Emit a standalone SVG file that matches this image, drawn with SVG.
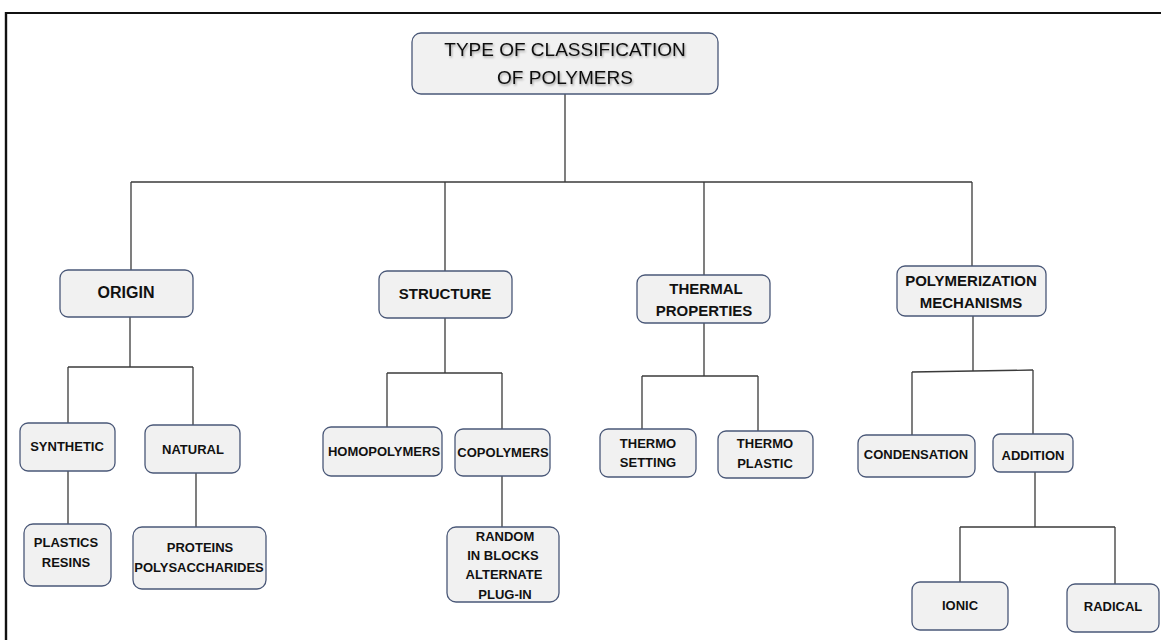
<svg xmlns="http://www.w3.org/2000/svg" width="1161" height="640" viewBox="0 0 1161 640">
<style>
.box{fill:#f1f1f1;stroke:#4a5878;stroke-width:1.3}
.l1{font-family:"Liberation Sans",Arial,sans-serif;font-weight:bold;font-size:15px;fill:#111;text-anchor:middle;dominant-baseline:central}
.l2{font-family:"Liberation Sans",Arial,sans-serif;font-weight:bold;font-size:13px;fill:#111;text-anchor:middle;dominant-baseline:central}
.root{font-family:"Liberation Sans",Arial,sans-serif;font-size:19px;fill:#111;text-anchor:middle;dominant-baseline:central}
.conn line{stroke:#3a3a3a;stroke-width:1.3}
</style>
<defs>
<filter id="sh" x="-10%" y="-30%" width="120%" height="160%">
<feDropShadow dx="1" dy="1.5" stdDeviation="1" flood-color="#000" flood-opacity="0.35"/>
</filter>
</defs>
<rect width="1161" height="640" fill="#fff"/>
<g id="frame">
<line x1="6" y1="13" x2="1161" y2="13" stroke="#111" stroke-width="2.2"/>
<line x1="6" y1="12" x2="6" y2="640" stroke="#111" stroke-width="2.4"/>
</g>
<g class="conn" id="connectors">
<line x1="565" y1="94" x2="565" y2="182"/>
<line x1="131" y1="182" x2="972" y2="182"/>
<line x1="131" y1="182" x2="131" y2="270"/>
<line x1="445" y1="182" x2="445" y2="271"/>
<line x1="704" y1="182" x2="704" y2="275"/>
<line x1="972" y1="182" x2="972" y2="266"/>
<line x1="130" y1="317" x2="130" y2="367"/>
<line x1="68" y1="367" x2="193" y2="367"/>
<line x1="68" y1="367" x2="68" y2="423"/>
<line x1="193" y1="367" x2="193" y2="425"/>
<line x1="445" y1="318" x2="445" y2="373"/>
<line x1="387" y1="373" x2="502" y2="373"/>
<line x1="387" y1="373" x2="387" y2="427"/>
<line x1="502" y1="373" x2="502" y2="429"/>
<line x1="704" y1="323" x2="704" y2="376"/>
<line x1="642" y1="376" x2="758" y2="376"/>
<line x1="642" y1="376" x2="642" y2="429"/>
<line x1="758" y1="376" x2="758" y2="431"/>
<line x1="973" y1="316" x2="973" y2="371"/>
<line x1="912" y1="372" x2="1033" y2="370"/>
<line x1="912" y1="372" x2="912" y2="435"/>
<line x1="1033" y1="370" x2="1033" y2="434"/>
<line x1="1035" y1="472" x2="1035" y2="527"/>
<line x1="960" y1="527" x2="1115" y2="527"/>
<line x1="960" y1="527" x2="960" y2="582"/>
<line x1="1115" y1="527" x2="1115" y2="584"/>
<line x1="68" y1="471" x2="68" y2="524"/>
<line x1="196" y1="473" x2="196" y2="527"/>
<line x1="502" y1="476" x2="502" y2="527"/>
</g>
<g id="root">
<rect class="box" x="412" y="33" width="306" height="61" rx="9"/>
<g filter="url(#sh)">
<text class="root" x="565" y="49">TYPE OF CLASSIFICATION</text>
<text class="root" x="565" y="77">OF POLYMERS</text>
</g>
</g>
<g id="origin">
<rect class="box" x="60" y="270" width="133" height="47" rx="8"/>
<text class="l1" x="126" y="292" style="font-size:16px">ORIGIN</text>
</g>
<g id="structure">
<rect class="box" x="379" y="271" width="133" height="47" rx="8"/>
<text class="l1" x="445" y="293">STRUCTURE</text>
</g>
<g id="thermal">
<rect class="box" x="637" y="275" width="133" height="48" rx="8"/>
<text class="l1" x="706" y="288">THERMAL</text>
<text class="l1" x="704" y="310">PROPERTIES</text>
</g>
<g id="polymerization">
<rect class="box" x="897" y="266" width="149" height="50" rx="8"/>
<text class="l1" x="971" y="280">POLYMERIZATION</text>
<text class="l1" x="971" y="302">MECHANISMS</text>
</g>
<g id="synthetic">
<rect class="box" x="20" y="423" width="95" height="48" rx="8"/>
<text class="l2" x="67" y="446">SYNTHETIC</text>
</g>
<g id="natural">
<rect class="box" x="145" y="425" width="95" height="48" rx="8"/>
<text class="l2" x="193" y="449">NATURAL</text>
</g>
<g id="homopolymers">
<rect class="box" x="323" y="427" width="119" height="49" rx="8"/>
<text class="l2" x="384" y="451">HOMOPOLYMERS</text>
</g>
<g id="copolymers">
<rect class="box" x="455" y="429" width="95" height="47" rx="8"/>
<text class="l2" x="503" y="452">COPOLYMERS</text>
</g>
<g id="plastics">
<rect class="box" x="24" y="524" width="87" height="62" rx="9"/>
<text class="l2" x="66" y="542">PLASTICS</text>
<text class="l2" x="66" y="562">RESINS</text>
</g>
<g id="proteins">
<rect class="box" x="133" y="527" width="133" height="62" rx="9"/>
<text class="l2" x="200" y="547">PROTEINS</text>
<text class="l2" x="199" y="567">POLYSACCHARIDES</text>
</g>
<g id="copolymer-types">
<rect class="box" x="447" y="527" width="112" height="75" rx="9"/>
<text class="l2" x="505" y="536">RANDOM</text>
<text class="l2" x="503" y="555">IN BLOCKS</text>
<text class="l2" x="504" y="574">ALTERNATE</text>
<text class="l2" x="505" y="594">PLUG-IN</text>
</g>
<g id="thermosetting">
<rect class="box" x="600" y="429" width="96" height="48" rx="8"/>
<text class="l2" x="648" y="443">THERMO</text>
<text class="l2" x="648" y="462">SETTING</text>
</g>
<g id="thermoplastic">
<rect class="box" x="718" y="431" width="95" height="47" rx="8"/>
<text class="l2" x="765" y="443">THERMO</text>
<text class="l2" x="765" y="463">PLASTIC</text>
</g>
<g id="condensation">
<rect class="box" x="858" y="435" width="117" height="42" rx="8"/>
<text class="l2" x="916" y="454">CONDENSATION</text>
</g>
<g id="addition">
<rect class="box" x="993" y="434" width="80" height="38" rx="7"/>
<text class="l2" x="1033" y="455">ADDITION</text>
</g>
<g id="ionic">
<rect class="box" x="912" y="582" width="96" height="48" rx="8"/>
<text class="l2" x="960" y="605">IONIC</text>
</g>
<g id="radical">
<rect class="box" x="1067" y="584" width="92" height="48" rx="8"/>
<text class="l2" x="1113" y="606">RADICAL</text>
</g>
</svg>
